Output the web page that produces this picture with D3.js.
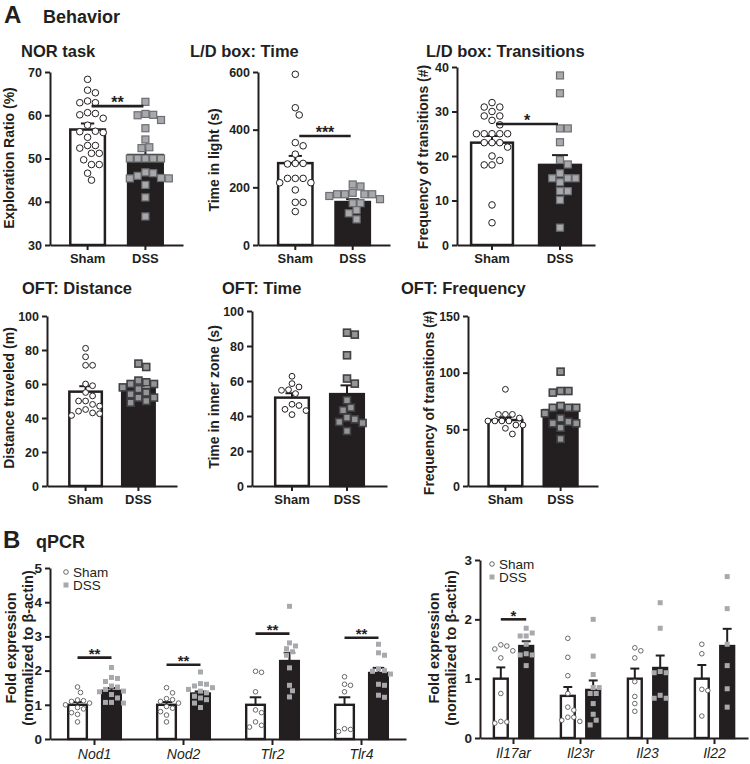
<!DOCTYPE html>
<html>
<head>
<meta charset="utf-8">
<script src="https://cdn.jsdelivr.net/npm/d3@7"></script>
<style>
  body { margin: 0; background: #fff; }
  svg { display: block; }
</style>
</head>
<body>
<svg id="fig" width="750" height="764"></svg>
<script>
"use strict";

// ---------- data ----------
var groups = ["Sham", "DSS"];

// NOR task: exploration ratio (%)
var norSham = [68.3, 65.8, 65.2, 63.3, 62.9, 62.9, 60.6, 60.4, 60.1, 59.3, 57.7, 56.3, 56.2, 56.0, 54.9, 53.0, 53.0, 52.4, 51.2, 51.2, 49.7, 48.6, 48.6, 46.6, 45.0];
var norDss = [63.1, 60.3, 60.1, 60.0, 58.9, 57.0, 54.4, 52.6, 52.4, 50.0, 50.0, 50.0, 50.0, 50.0, 46.8, 46.6, 46.0, 45.5, 45.4, 45.4, 43.9, 41.0, 36.6];
var norMean = [56.7, 50.8];
var norSem = [1.4, 1.5];
var norTicks = [30, 40, 50, 60, 70];

// L/D box: time in light (s)
var ldTimeSham = [592, 476, 451, 355, 344, 315, 283, 283, 281, 231, 231, 231, 216, 216, 191, 148, 148, 116];
var ldTimeDss = [210, 203, 181, 176, 176, 176, 176, 170, 159, 145, 145, 121, 110, 89];
var ldTimeMean = [284, 149];
var ldTimeSem = [25, 10];
var ldTimeTicks = [0, 200, 400, 600];

// L/D box: transitions (#)
var ldTransSham = [32, 31, 31, 30, 29, 29, 28, 27, 25, 25, 25, 25, 25, 23, 23, 23, 22, 20, 19, 18, 18, 9, 5];
var ldTransDss = [38.1, 34.1, 26.2, 26.2, 23.1, 19.1, 18.1, 16.1, 15.0, 15.0, 15.0, 14.1, 12.1, 12.1, 10.1, 3.9];
var ldTransMean = [23.0, 18.0];
var ldTransSem = [1.5, 2.2];
var ldTransTicks = [0, 10, 20, 30, 40];

// OFT: distance travelled (m)
var oftDistSham = [81, 76, 71, 71, 60, 59, 55, 53, 50, 50, 48, 47, 45, 44, 43, 42.5, 41.5];
var oftDistDss = [72, 70, 62, 61, 60, 60, 58, 57, 55, 54, 52, 52, 50, 49];
var oftDistMean = [55.5, 57.2];
var oftDistSem = [3.2, 1.8];
var oftDistTicks = [0, 20, 40, 60, 80, 100];

// OFT: time in inner zone (s)
var oftTimeSham = [62.7, 58.5, 56.6, 55.0, 54.7, 52.8, 46.7, 46.0, 43.8, 43.1, 40.8];
var oftTimeDss = [87.6, 86.5, 74.7, 61.4, 58.5, 49.0, 44.8, 43.3, 39.1, 38.1, 36.6, 36.0, 31.4];
var oftTimeMean = [50.5, 52.5];
var oftTimeSem = [2.5, 5.0];
var oftTimeTicks = [0, 20, 40, 60, 80, 100];

// OFT: frequency of transitions (#)
var oftFreqSham = [85.3, 63.2, 63.2, 63.2, 60.0, 57.4, 57.4, 57.4, 57.4, 53.8, 53.8, 50.9, 45.9];
var oftFreqDss = [100.9, 83.8, 83.8, 82.4, 70.6, 69.0, 69.0, 69.0, 64.1, 59.7, 56.7, 55.3, 55.3, 51.4, 41.5];
var oftFreqMean = [58.2, 67.0];
var oftFreqSem = [2.5, 4.0];
var oftFreqTicks = [0, 50, 100, 150];

// qPCR: innate receptors
var innateGenes = ["Nod1", "Nod2", "Tlr2", "Tlr4"];
var innateShamMean = [1.0, 1.0, 1.0, 1.0];
var innateShamSem = [0.08, 0.08, 0.22, 0.22];
var innateDssMean = [1.41, 1.33, 2.28, 1.93];
var innateDssSem = [0.08, 0.06, 0.24, 0.15];
var innateShamPts = [
  [1.52, 1.36, 1.14, 1.12, 1.10, 1.05, 1.00, 0.92, 0.88, 0.77, 0.72, 0.50],
  [1.50, 1.35, 1.18, 1.15, 1.10, 1.05, 0.95, 0.90, 0.80, 0.70, 0.50],
  [1.98, 1.95, 1.38, 0.85, 0.77, 0.50, 0.40, 0.35],
  [1.82, 1.60, 1.57, 1.38, 0.30, 0.28, 0.22]
];
var innateDssPts = [
  [2.09, 1.80, 1.77, 1.68, 1.55, 1.52, 1.45, 1.40, 1.38, 1.30, 1.20, 1.07, 1.07, 1.05],
  [1.96, 1.62, 1.60, 1.55, 1.50, 1.45, 1.40, 1.35, 1.25, 1.20, 1.15, 1.05, 0.92],
  [3.88, 2.81, 2.72, 2.64, 2.55, 2.45, 2.08, 1.57, 1.41, 1.23],
  [2.77, 2.52, 2.45, 2.05, 2.00, 1.98, 1.90, 1.60, 1.57, 1.28, 1.22]
];
var innateSig = [2.38, 2.17, 3.08, 2.96];
var innateSigLabel = ["**", "**", "**", "**"];
var innateTicks = [0, 1, 2, 3, 4, 5];

// qPCR: IL-17 / IL-23 axis
var ilGenes = ["Il17ar", "Il23r", "Il23", "Il22"];
var ilShamMean = [1.0, 0.71, 1.0, 1.0];
var ilShamSem = [0.19, 0.15, 0.17, 0.23];
var ilDssMean = [1.55, 0.81, 1.18, 1.55];
var ilDssSem = [0.08, 0.16, 0.21, 0.29];
var ilShamPts = [
  [1.57, 1.55, 1.50, 1.47, 1.35, 0.75, 0.28, 0.27, 0.25],
  [1.68, 1.36, 1.05, 0.75, 0.52, 0.47, 0.35, 0.35, 0.30, 0.28],
  [1.52, 1.47, 1.35, 0.95, 0.70, 0.58, 0.45],
  [1.58, 1.42, 0.82, 0.80, 0.37]
];
var ilDssPts = [
  [1.85, 1.77, 1.72, 1.72, 1.58, 1.42, 1.40, 1.40, 1.22],
  [2.00, 1.38, 1.07, 0.85, 0.85, 0.75, 0.75, 0.58, 0.40, 0.30, 0.22],
  [2.28, 1.85, 1.12, 1.10, 1.10, 0.72, 0.67, 0.67],
  [2.72, 2.18, 1.58, 1.22, 0.83, 0.52]
];
var ilSig = [2.0, null, null, null];
var ilSigLabel = ["*", "", "", ""];
var ilTicks = [0, 1, 2, 3];

// ---------- styles ----------
var FONT = '"Liberation Sans", Arial, Helvetica, sans-serif';
var INK = "#231f20";

var svg = d3.select("#fig").attr("font-family", FONT);

// section headers
function header(letter, word, x, y, wx) {
  svg.append("text").attr("x", x).attr("y", y).attr("font-size", 24).attr("font-weight", "bold")
    .attr("fill", INK).text(letter);
  svg.append("text").attr("x", wx).attr("y", y).attr("font-size", 18).attr("font-weight", "bold")
    .attr("fill", INK).text(word);
}
header("A", "Behavior", 4, 23, 43);
header("B", "qPCR", 3, 548, 36);

// simple beeswarm: each point goes to the nearest free slot beside the column centre
function swarm(values, y, d) {
  var pts = values.map(function(v) { return {v: v, py: y(v), dx: 0}; })
    .sort(function(a, b) { return a.py - b.py; });
  var placed = [];
  pts.forEach(function(p) {
    for (var k = 0; k < 60; k++) {
      var cand = k === 0 ? 0 : (k % 2 ? 1 : -1) * Math.ceil(k / 2) * d / 2;
      var hit = placed.some(function(q) { return Math.hypot(q.dx - cand, q.py - p.py) < d - 0.01; });
      if (!hit) { p.dx = cand; break; }
    }
    placed.push(p);
  });
  return pts;
}

function drawMarkers(g, pts, cx, kind, mk) {
  if (kind === "Sham") {
    g.selectAll(null).data(pts).enter().append("circle")
      .attr("cx", function(d) { return cx + d.dx; })
      .attr("cy", function(d) { return d.py; })
      .attr("r", mk.r)
      .attr("fill", "#fff").attr("stroke", mk.cStroke).attr("stroke-width", mk.cWidth);
  } else {
    g.selectAll(null).data(pts).enter().append("rect")
      .attr("x", function(d) { return cx + d.dx - mk.s / 2; })
      .attr("y", function(d) { return d.py - mk.s / 2; })
      .attr("width", mk.s).attr("height", mk.s)
      .attr("fill", mk.sFill).attr("stroke", mk.sStroke).attr("stroke-width", mk.sWidth);
  }
}

function styleAxis(a, size, weight, style) {
  a.attr("font-family", FONT).attr("font-size", size);
  a.select(".domain").attr("stroke", INK).attr("stroke-width", 2);
  a.selectAll(".tick line").attr("stroke", INK).attr("stroke-width", 2);
  a.selectAll(".tick text").attr("fill", INK).attr("font-weight", weight).attr("font-style", style || "normal");
}

function drawErr(g, cx, y, mean, sem, capW) {
  g.append("line").attr("x1", cx).attr("x2", cx).attr("y1", y(mean)).attr("y2", y(mean + sem))
    .attr("stroke", INK).attr("stroke-width", 2);
  g.append("line").attr("x1", cx - capW / 2).attr("x2", cx + capW / 2).attr("y1", y(mean + sem)).attr("y2", y(mean + sem))
    .attr("stroke", INK).attr("stroke-width", 2);
}

function drawSig(g, xa, xb, yy, label, size) {
  g.append("line").attr("x1", xa).attr("x2", xb).attr("y1", yy).attr("y2", yy)
    .attr("stroke", INK).attr("stroke-width", 2.6);
  g.append("text").attr("x", (xa + xb) / 2).attr("y", yy + size * 0.1).attr("text-anchor", "middle")
    .attr("font-size", size).attr("font-weight", "bold").attr("fill", INK).text(label);
}

// ---------- behaviour panels ----------
var markBig = {r: 3.3, cStroke: INK, cWidth: 1, s: 7, sFill: "#a7a9ac", sStroke: "#6d6e71", sWidth: 1.2};
var markOft = {r: 2.9, cStroke: INK, cWidth: 1, s: 7, sFill: "#939598", sStroke: "#414042", sWidth: 1.6};

var behaviorPanels = [
  {title: "NOR task", ylab: "Exploration Ratio (%)", sham: norSham, dss: norDss, mean: norMean, sem: norSem,
   ticks: norTicks, sig: 62.1, sigLab: "**",
   x0: 50, x1: 183, top: 72, bottom: 245, pi: 0.36, po: 0.33, tx: 21, ty: 57, lx: 14, ly: 158, mk: markBig},
  {title: "L/D box: Time", ylab: "Time in light (s)", sham: ldTimeSham, dss: ldTimeDss, mean: ldTimeMean, sem: ldTimeSem,
   ticks: ldTimeTicks, sig: 378, sigLab: "***",
   x0: 258, x1: 390, top: 72, bottom: 245, pi: 0.36, po: 0.33, tx: 190, ty: 57, lx: 219, ly: 160, mk: markBig},
  {title: "L/D box: Transitions", ylab: "Frequency of transitions (#)", sham: ldTransSham, dss: ldTransDss, mean: ldTransMean, sem: ldTransSem,
   ticks: ldTransTicks, sig: 27.2, sigLab: "*",
   x0: 457, x1: 595, top: 67, bottom: 245, pi: 0.35, po: 0.19, tx: 426, ty: 57, lx: 428, ly: 157, mk: markBig},
  {title: "OFT: Distance", ylab: "Distance traveled (m)", sham: oftDistSham, dss: oftDistDss, mean: oftDistMean, sem: oftDistSem,
   ticks: oftDistTicks, sig: null,
   x0: 47, x1: 177, top: 316, bottom: 486, pi: 0.34, po: 0.4, tx: 22, ty: 294, lx: 14, ly: 398, mk: markOft},
  {title: "OFT: Time", ylab: "Time in inner zone  (s)", sham: oftTimeSham, dss: oftTimeDss, mean: oftTimeMean, sem: oftTimeSem,
   ticks: oftTimeTicks, sig: null,
   x0: 252, x1: 387, top: 311, bottom: 486, pi: 0.345, po: 0.4, tx: 222, ty: 294, lx: 219, ly: 397, mk: markOft},
  {title: "OFT: Frequency", ylab: "Frequency of transitions (#)", sham: oftFreqSham, dss: oftFreqDss, mean: oftFreqMean, sem: oftFreqSem,
   ticks: oftFreqTicks, sig: null,
   x0: 468, x1: 598, top: 316, bottom: 486, pi: 0.345, po: 0.35, tx: 401, ty: 294, lx: 434, ly: 403, mk: markOft}
];

behaviorPanels.forEach(function(p) {
  var g = svg.append("g");
  var x = d3.scaleBand().domain(groups).range([p.x0, p.x1]).paddingInner(p.pi).paddingOuter(p.po);
  var y = d3.scaleLinear().domain([p.ticks[0], p.ticks[p.ticks.length - 1]]).range([p.bottom, p.top]);
  var bw = x.bandwidth();

  g.append("text").attr("x", p.tx).attr("y", p.ty).attr("font-size", 16.5).attr("font-weight", "bold")
    .attr("fill", INK).text(p.title);
  g.append("text").attr("transform", "translate(" + p.lx + "," + p.ly + ") rotate(-90)")
    .attr("text-anchor", "middle").attr("font-size", 14).attr("font-weight", "bold").attr("fill", INK).text(p.ylab);

  // bars
  g.selectAll(null).data(groups).enter().append("rect")
    .attr("x", function(d) { return x(d) + 1.2; })
    .attr("width", bw - 2.4)
    .attr("y", function(d, i) { return y(p.mean[i]); })
    .attr("height", function(d, i) { return y(p.ticks[0]) - y(p.mean[i]); })
    .attr("fill", function(d) { return d === "Sham" ? "#fff" : INK; })
    .attr("stroke", INK).attr("stroke-width", 2.5);

  groups.forEach(function(gname, i) {
    drawErr(g, x(gname) + bw / 2, y, p.mean[i], p.sem[i], bw * 0.36);
  });

  drawMarkers(g, swarm(p.sham, y, p.mk.r * 2 + 1.2), x("Sham") + bw / 2, "Sham", p.mk);
  drawMarkers(g, swarm(p.dss, y, p.mk.s + 0.8), x("DSS") + bw / 2, "DSS", p.mk);

  if (p.sig !== null) {
    drawSig(g, x("Sham") + bw / 2 + 4, x("DSS") + bw / 2 - 2, y(p.sig), p.sigLab, 16);
  }

  var ya = g.append("g").attr("transform", "translate(" + p.x0 + ",0)")
    .call(d3.axisLeft(y).tickValues(p.ticks).tickFormat(d3.format("d")).tickSize(5).tickSizeOuter(0).tickPadding(3));
  styleAxis(ya, 12.5, "bold");
  var xa = g.append("g").attr("transform", "translate(0," + p.bottom + ")")
    .call(d3.axisBottom(x).tickSize(5).tickSizeOuter(0).tickPadding(4));
  styleAxis(xa, 13, "bold");
});

// ---------- qPCR panels ----------
var markSmall = {r: 2.3, cStroke: "#58595b", cWidth: 0.9, s: 5, sFill: "#a7a9ac", sStroke: "none", sWidth: 0};

var qpcrPanels = [
  {genes: innateGenes, shamMean: innateShamMean, shamSem: innateShamSem, dssMean: innateDssMean, dssSem: innateDssSem,
   shamPts: innateShamPts, dssPts: innateDssPts, sig: innateSig, sigLab: innateSigLabel, ticks: innateTicks,
   x0: 50, x1: 406, top: 568, bottom: 739, pi: 0.38, po: 0.5, lx: 16, ly: 648, legX: 66, legY: 572},
  {genes: ilGenes, shamMean: ilShamMean, shamSem: ilShamSem, dssMean: ilDssMean, dssSem: ilDssSem,
   shamPts: ilShamPts, dssPts: ilDssPts, sig: ilSig, sigLab: ilSigLabel, ticks: ilTicks,
   x0: 480, x1: 748, top: 560, bottom: 738, pi: 0.36, po: 0.5, lx: 439, ly: 648, legX: 492, legY: 564}
];

qpcrPanels.forEach(function(p) {
  var g = svg.append("g");
  var x = d3.scaleBand().domain(p.genes).range([p.x0, p.x1]);
  var xs = d3.scaleBand().domain(groups).range([0, x.bandwidth()]).paddingInner(p.pi).paddingOuter(p.po);
  var y = d3.scaleLinear().domain([0, p.ticks[p.ticks.length - 1]]).range([p.bottom, p.top]);
  var bw = xs.bandwidth();

  var lab = g.append("text").attr("transform", "translate(" + p.lx + "," + p.ly + ") rotate(-90)")
    .attr("text-anchor", "middle").attr("font-size", 14.5).attr("font-weight", "bold").attr("fill", INK);
  lab.append("tspan").attr("x", 0).attr("y", 0).text("Fold expression");
  lab.append("tspan").attr("x", 0).attr("y", 16.5).text("(normalized to \u03b2-actin)");

  p.genes.forEach(function(gene, gi) {
    var means = [p.shamMean[gi], p.dssMean[gi]];
    var sems = [p.shamSem[gi], p.dssSem[gi]];
    var pts = [p.shamPts[gi], p.dssPts[gi]];
    groups.forEach(function(gname, i) {
      var bx = x(gene) + xs(gname);
      g.append("rect").attr("x", bx + 1.2).attr("width", bw - 2.4)
        .attr("y", y(means[i])).attr("height", y(0) - y(means[i]))
        .attr("fill", gname === "Sham" ? "#fff" : INK).attr("stroke", INK).attr("stroke-width", 2.4);
      drawErr(g, bx + bw / 2, y, means[i], sems[i], bw * 0.55);
      drawMarkers(g, swarm(pts[i], y, 6), bx + bw / 2, gname, markSmall);
    });
    if (p.sig[gi] !== null) {
      drawSig(g, x(gene) + xs("Sham") + bw / 2, x(gene) + xs("DSS") + bw / 2, y(p.sig[gi]), p.sigLab[gi], 15);
    }
  });

  // legend
  var leg = g.append("g");
  leg.append("circle").attr("cx", p.legX).attr("cy", p.legY).attr("r", markSmall.r)
    .attr("fill", "#fff").attr("stroke", markSmall.cStroke).attr("stroke-width", markSmall.cWidth);
  leg.append("rect").attr("x", p.legX - 2.5).attr("y", p.legY + 10.5).attr("width", 5).attr("height", 5)
    .attr("fill", markSmall.sFill);
  leg.append("text").attr("x", p.legX + 7).attr("y", p.legY + 4.5).attr("font-size", 13.5).attr("fill", INK).text("Sham");
  leg.append("text").attr("x", p.legX + 7).attr("y", p.legY + 18).attr("font-size", 13.5).attr("fill", INK).text("DSS");

  var ya = g.append("g").attr("transform", "translate(" + p.x0 + ",0)")
    .call(d3.axisLeft(y).tickValues(p.ticks).tickFormat(d3.format("d")).tickSize(5).tickSizeOuter(0).tickPadding(3));
  styleAxis(ya, 13.5, "bold");
  var xa = g.append("g").attr("transform", "translate(0," + p.bottom + ")")
    .call(d3.axisBottom(x).tickSize(6).tickSizeOuter(0).tickPadding(4));
  styleAxis(xa, 14, "normal", "italic");
});
</script>
</body>
</html>
